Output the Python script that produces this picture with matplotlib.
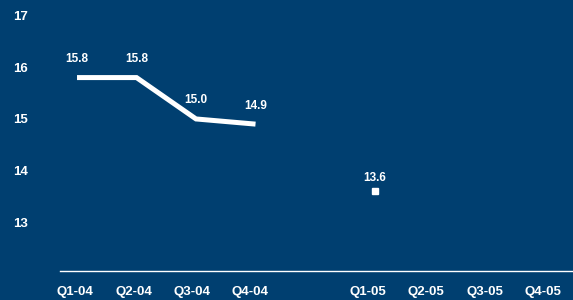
import numpy as np
import matplotlib.pyplot as plt

# categories (one blank slot between the two years)
quarters = ["Q1-04", "Q2-04", "Q3-04", "Q4-04", "", "Q1-05", "Q2-05", "Q3-05", "Q4-05"]
line_values = [15.8, 15.8, 15.0, 14.9]
point_value = 13.6
point_index = 5
yticks = [13, 14, 15, 16, 17]

bg = "#003f70"
fg = "white"

plt.rcParams['font.family'] = ['Liberation Sans', 'DejaVu Sans']

fig = plt.figure(figsize=(5.73, 3.0), dpi=100, facecolor=bg)
ax = fig.add_axes([60 / 573, 29 / 300, 513 / 573, 271 / 300], facecolor=bg)

x = np.arange(len(line_values))
ax.plot(x, line_values, color=fg, lw=3.6, solid_capstyle='butt', solid_joinstyle='miter')
ax.plot([point_index], [point_value], marker='s', ms=4.5, color=fg, lw=0)

# data labels
for xi, v in zip(x, line_values):
    ax.annotate(f"{v:.1f}", (xi, v), xytext=(0, 9), textcoords='offset points',
                ha='center', va='bottom', color=fg, fontsize=8.5, fontweight='bold')
ax.annotate(f"{point_value:.1f}", (point_index, point_value), xytext=(0, 5),
            textcoords='offset points', ha='center', va='bottom', color=fg,
            fontsize=8.5, fontweight='bold')

ax.set_xlim(-0.286, 8.336)
ax.set_ylim(12.06, 17.3)

# category labels sit slightly tighter than the plotted points
ax.set_xticks(np.arange(len(quarters)) * 58.5 / 59.5 - 0.034)
ax.set_xticklabels(quarters)
ax.set_yticks(yticks)
ax.tick_params(axis='both', length=0, colors=fg, labelsize=9.5)
ax.tick_params(axis='x', pad=11)
ax.tick_params(axis='y', pad=23)
for lbl in ax.get_xticklabels() + ax.get_yticklabels():
    lbl.set_fontweight('bold')

for s in ['top', 'right', 'left']:
    ax.spines[s].set_visible(False)
ax.spines['bottom'].set_color(fg)
ax.spines['bottom'].set_linewidth(1.0)

fig.savefig("out.png", dpi=100, facecolor=bg)
